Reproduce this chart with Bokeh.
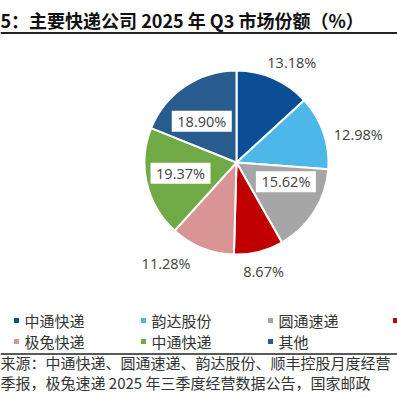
import numpy as np
from bokeh.plotting import figure
from bokeh.models import Range1d, ColumnDataSource
from bokeh.embed import file_html
from bokeh.resources import INLINE
from bokeh.core.properties import value

# ---------------- data ----------------
title_text = "5：主要快递公司 2025 年 Q3 市场份额（%）"
companies = ["中通快递", "韵达股份", "圆通速递", "顺丰控股", "极兔快递", "中通快递", "其他"]
shares = [13.18, 12.98, 15.62, 8.67, 11.28, 19.37, 18.90]
source_lines = [
    "来源：中通快递、圆通速递、韵达股份、顺丰控股月度经营",
    "季报，极兔速递 2025 年三季度经营数据公告，国家邮政",
]

# ---------------- styles / layout ----------------
colors = ["#0B4E96", "#4DB8E8", "#A6A6A6", "#C00000", "#D99594", "#6FAA46", "#295C8E"]
label_inside = [False, False, True, False, False, True, True]
label_radius = [114, 125, 53, 112, 123, 57, 54]
label_angle_nudge = [5.3, 6.2, -11, 0, 13, 2, -6]  # degrees, clockwise

W = H = 397
def X(px):  # page x -> data x
    return px
def Y(py):  # page y -> data y
    return H - py

p = figure(width=W, height=H, output_backend="svg", toolbar_location=None,
           x_range=Range1d(0, W), y_range=Range1d(0, H), min_border=0,
           outline_line_color=None, background_fill_color="white",
           border_fill_color="white")
p.axis.visible = False
p.grid.visible = False

# ---------------- title ----------------
p.text(x=[X(0)], y=[Y(19.5)], text=[title_text], text_font=value("Noto Sans CJK SC"),
       text_font_size="18px", text_font_style="bold", text_color="#111111",
       text_baseline="middle", text_align="left")
p.segment(x0=[0], y0=[Y(32.5)], x1=[W], y1=[Y(32.5)], line_color="#222222", line_width=2)

# ---------------- pie ----------------
cx, cy, R = X(236), Y(162), 92
vals = np.array(shares, dtype=float)
frac = vals / vals.sum()
ends = np.cumsum(frac)
starts = ends - frac
src = ColumnDataSource(dict(
    start=np.pi / 2 - 2 * np.pi * ends,
    end=np.pi / 2 - 2 * np.pi * starts,
    color=colors,
))
p.wedge(x=cx, y=cy, radius=R, start_angle="start", end_angle="end",
        fill_color="color", line_color="white", line_width=2, source=src)

# labels
mid_deg = (starts + frac / 2) * 360 + np.array(label_angle_nudge)
th = np.deg2rad(mid_deg)
lx = cx + np.array(label_radius) * np.sin(th)
ly = cy + np.array(label_radius) * np.cos(th)
texts = [f"{v:.2f}%" for v in shares]
inside_idx = [i for i, f in enumerate(label_inside) if f]
p.rect(x=[lx[i] for i in inside_idx], y=[ly[i] for i in inside_idx], width=60, height=21,
       fill_color="white", line_color=None)
p.text(x=lx, y=ly, text=texts, text_font=value("Open Sans"), text_font_size="14.5px",
       text_color="#404040", text_align="center", text_baseline="middle")

# ---------------- legend ----------------
col_x = [16, 143, 270, 395]
row_y = [320, 341]
mx, my, mc, tx, ty, tt = [], [], [], [], [], []
for i, name in enumerate(companies):
    r, c = divmod(i, 4)
    mx.append(X(col_x[c])); my.append(Y(row_y[r])); mc.append(colors[i])
    if col_x[c] + 60 > W:
        continue  # label runs past the page edge (cut off in the reference)
    tx.append(X(col_x[c] + 8)); ty.append(Y(row_y[r])); tt.append(name)
p.scatter(x=mx, y=my, marker="square", size=5, fill_color=mc, line_color=None)
p.text(x=tx, y=ty, text=tt, text_font=value("Noto Sans CJK SC"), text_font_size="15px",
       text_color="#333333", text_baseline="middle", text_align="left")

p.segment(x0=[0], y0=[Y(353.5)], x1=[W], y1=[Y(353.5)], line_color="#222222", line_width=1.5)

# ---------------- source ----------------
p.text(x=[X(0), X(0)], y=[Y(362), Y(381.5)], text=source_lines,
       text_font=value("Noto Sans CJK SC"), text_font_size="15px", text_color="#333333",
       text_baseline="middle", text_align="left")

open("out.html", "w").write(file_html(p, INLINE))
